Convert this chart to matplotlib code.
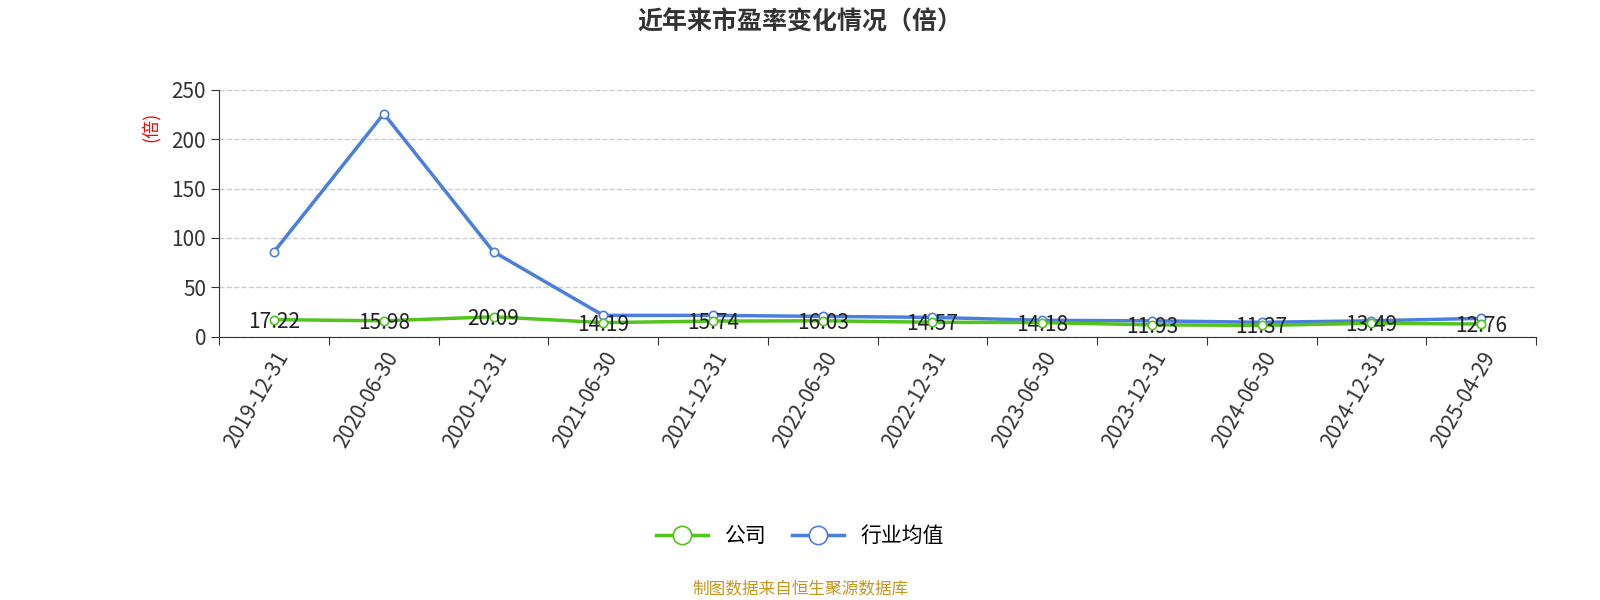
import matplotlib.pyplot as plt

plt.rcParams['font.family'] = ['Noto Sans CJK SC', 'DejaVu Sans']

dates = ['2019-12-31', '2020-06-30', '2020-12-31', '2021-06-30', '2021-12-31', '2022-06-30',
         '2022-12-31', '2023-06-30', '2023-12-31', '2024-06-30', '2024-12-31', '2025-04-29']
company = [17.22, 15.98, 20.09, 14.19, 15.74, 16.03, 14.57, 14.18, 11.93, 11.37, 13.49, 12.76]
industry = [86, 226, 86, 21.5, 21.5, 20.5, 19.5, 16.5, 16, 14.5, 16, 18.5]

fig = plt.figure(figsize=(16, 6), dpi=100)
ax = fig.add_axes([0.137, 0.439, 0.823, 0.411])
x = [i + 0.5 for i in range(len(dates))]

ax.plot(x, company, color='#52c41a', lw=2.5, marker='o', ms=6, mfc='white', mew=1.2, label='公司', zorder=3)
ax.plot(x, industry, color='#4a7fe0', lw=2.5, marker='o', ms=6, mfc='white', mew=1.2, label='行业均值', zorder=2)
for xi, v in zip(x, company):
    ax.text(xi, v - 2, f'{v:.2f}', ha='center', va='center', fontsize=15, color='#222222', zorder=4)

ax.set_xlim(0, len(dates))
ax.set_ylim(0, 250)
ax.set_yticks(range(0, 251, 50))
ax.set_xticks(range(len(dates) + 1), minor=False)
ax.set_xticklabels([''] * (len(dates) + 1))
ax.set_xticks(x, minor=True)
ax.set_xticklabels(dates, minor=True, rotation=60, ha='right', rotation_mode='anchor', fontsize=15, color='#333333')
ax.tick_params(axis='x', which='minor', length=0, pad=8)
ax.tick_params(axis='x', which='major', length=6, color='#333333')
ax.tick_params(axis='y', labelsize=15, labelcolor='#333333', length=6, color='#333333')
ax.grid(axis='y', ls='--', color='#cccccc', lw=1)
for s in ['top', 'right']:
    ax.spines[s].set_visible(False)
ax.spines['left'].set_color('#333333')
ax.spines['bottom'].set_color('#333333')
ax.set_ylabel('(倍)', color='red', fontsize=13)
ax.yaxis.set_label_coords(-0.045, 0.85)

fig.text(0.5, 0.963, '近年来市盈率变化情况（倍）', ha='center', va='center', fontsize=18, fontweight='bold', color='#333333')
fig.legend(loc='center', bbox_to_anchor=(0.5, 0.107), ncol=2, frameon=False, fontsize=15,
           markerscale=2.2, handlelength=2.5, columnspacing=1.2)
fig.text(0.5, 0.017, '制图数据来自恒生聚源数据库', ha='center', va='center', fontsize=12, color='#c8961e')

fig.savefig('out.png')
